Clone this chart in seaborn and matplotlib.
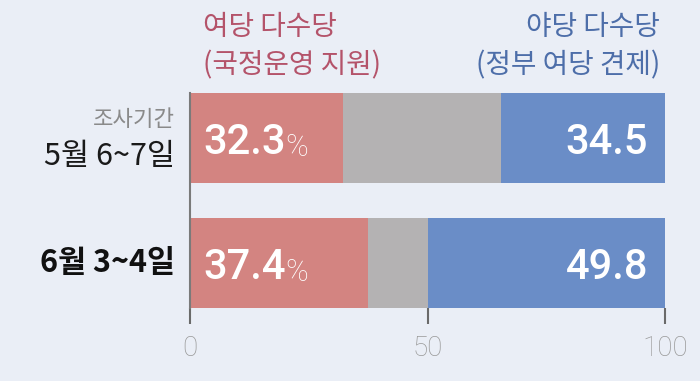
import matplotlib
matplotlib.use("Agg")
import matplotlib.pyplot as plt
import seaborn as sns
import pandas as pd

# ---- data ----
periods = ["5월 6~7일", "6월 3~4일"]
ruling = [32.3, 37.4]        # 여당 다수당 (국정운영 지원)
opposition = [34.5, 49.8]    # 야당 다수당 (정부 여당 견제)
x_ticks = [0, 50, 100]
header_left = ["여당 다수당", "(국정운영 지원)"]
header_right = ["야당 다수당", "(정부 여당 견제)"]
period_caption = "조사기간"

BG = "#eaeef6"
RED = "#d38481"
GRAY = "#b4b2b3"
BLUE = "#6a8dc7"
RED_TXT = "#b4536a"
BLUE_TXT = "#4d6ea9"

sns.set_theme(style="white")
plt.rcParams["font.family"] = ["Noto Sans CJK KR", "DejaVu Sans"]

df = pd.DataFrame({
    "period": periods,
    "ruling": ruling,
    "opposition": opposition,
})
df["total"] = 100.0
df["ruling_plus_other"] = df["total"] - df["opposition"]

fig = plt.figure(figsize=(7.0, 3.81), dpi=100, facecolor=BG)
W, H = 700, 381
ax = fig.add_axes([190 / W, 1 - 308 / H, 475 / W, 215 / H])
ax.set_facecolor(BG)

kw = dict(data=df, y="period", orient="h", width=0.72, saturation=1,
          linewidth=0, ax=ax, order=periods)
sns.barplot(x="total", color=BLUE, **kw)
sns.barplot(x="ruling_plus_other", color=GRAY, **kw)
sns.barplot(x="ruling", color=RED, **kw)

ax.set_xlim(0, 100)
ax.set_ylim(1.36, -0.36)
ax.set_xlabel("")
ax.set_ylabel("")
ax.set_yticks([])
ax.set_xticks(x_ticks)
ax.set_xticklabels([str(t) for t in x_ticks], family="Roboto", weight="light",
                   fontsize=20, color="#999999")
ax.tick_params(axis="x", length=11.5, width=1.5, color="#6a6a6a", pad=8,
               bottom=True, direction="out")
for s in ["top", "right", "bottom"]:
    ax.spines[s].set_visible(False)
ax.spines["left"].set_color("#7a7a7a")
ax.spines["left"].set_linewidth(1.5)
ax.grid(False)

# value labels
num_font = dict(family="Roboto", weight="medium", fontsize=30, color="white")
for i, (r, o) in enumerate(zip(ruling, opposition)):
    t = ax.annotate(f"{r:.1f}", xy=(0, i), xytext=(9.4, -3), textcoords="offset points",
                    ha="left", va="center", **num_font)
    ax.annotate("%", xy=(1, 0), xycoords=t, xytext=(-0.5, 0.5), textcoords="offset points",
                ha="left", va="bottom", color="white", fontsize=22,
                family="Roboto", weight="light")
    ax.annotate(f"{o:.1f}", xy=(100, i), xytext=(-12.2, -3), textcoords="offset points",
                ha="right", va="center", **num_font)

# period labels
ax.annotate(period_caption, xy=(0, 0), xytext=(-10.8, 13), textcoords="offset points",
            ha="right", va="center", fontsize=16, color="#8a8a8a")
ax.annotate(periods[0], xy=(0, 0), xytext=(-10.8, -13.5), textcoords="offset points",
            ha="right", va="center", fontsize=22, color="#1a1a1a")
ax.annotate(periods[1], xy=(0, 1), xytext=(-10.8, 0), textcoords="offset points",
            ha="right", va="center", fontsize=22, color="#111111", weight="bold")

# headers
fig.text(203 / W, 1 - 27 / H, header_left[0], ha="left", va="center",
         fontsize=20, color=RED_TXT)
fig.text(203 / W, 1 - 65 / H, header_left[1], ha="left", va="center",
         fontsize=20, color=RED_TXT)
fig.text(660 / W, 1 - 27 / H, header_right[0], ha="right", va="center",
         fontsize=20, color=BLUE_TXT)
fig.text(660 / W, 1 - 65 / H, header_right[1], ha="right", va="center",
         fontsize=20, color=BLUE_TXT)

fig.savefig("out.png", dpi=100, facecolor=BG)
